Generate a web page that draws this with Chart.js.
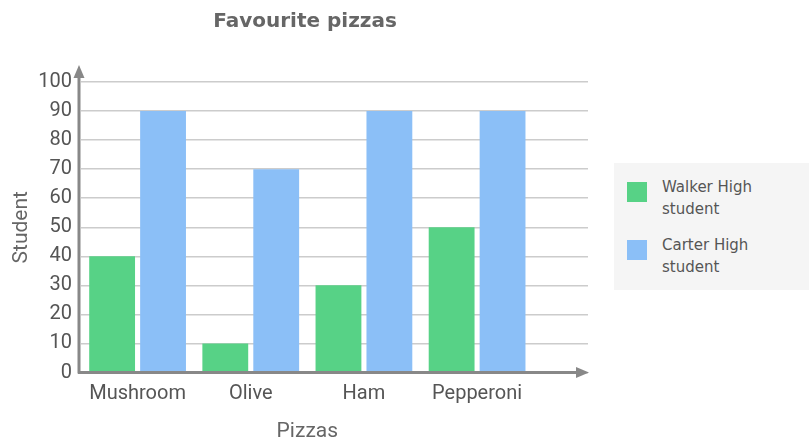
<!DOCTYPE html>
<html>
<head>
<meta charset="utf-8">
<script src="https://cdn.jsdelivr.net/npm/chart.js@4.4.1/dist/chart.umd.min.js"></script>
<style>
  html, body { margin: 0; padding: 0; background: #fff; }
  #wrap { position: relative; width: 809px; height: 442px; }
  #chartBox { position: absolute; left: 0; top: 0; width: 610px; height: 442px; }
  #legend {
    position: absolute; left: 614px; top: 163px; width: 195px; height: 127px;
    background: #f5f5f5; font-family: "DejaVu Sans", Verdana, sans-serif;
    font-size: 15px; color: #555; box-sizing: border-box; padding-top: 13px;
  }
  .item { position: relative; height: 58px; }
  .sw { position: absolute; left: 13px; top: 6px; width: 20px; height: 20px; }
  .lbl { position: absolute; left: 48px; top: 0; width: 115px; line-height: 22px; }
</style>
</head>
<body>
<div id="wrap">
  <div id="chartBox"><canvas id="pizzaChart"></canvas></div>
  <div id="legend"></div>
</div>
<script>
'use strict';

// ── data ────────────────────────────────────────────────────────────────────

const CATEGORIES = ['Mushroom', 'Olive', 'Ham', 'Pepperoni'];
const WALKER     = [40, 10, 30, 50];
const CARTER     = [90, 70, 90, 90];
const SERIES     = ['Walker High student', 'Carter High student'];
const COLORS     = ['#57d286', '#8bbff7'];

const TITLE   = 'Favourite pizzas';
const X_TITLE = 'Pizzas';
const Y_TITLE = 'Student';

// ── legend (html) ───────────────────────────────────────────────────────────

function renderLegend() {
  const box = document.getElementById('legend');
  SERIES.forEach((name, i) => {
    const item = document.createElement('div');
    item.className = 'item';
    item.innerHTML = `<div class="sw" style="background:${COLORS[i]}"></div>` +
      `<div class="lbl">${name}</div>`;
    box.appendChild(item);
  });
}

// ── axes with arrows + x title ──────────────────────────────────────────────

const axisArrows = {
  id: 'axisArrows',
  afterDraw(chart) {
    const { ctx, chartArea: a, scales } = chart;
    const y0 = scales.y.getPixelForValue(0);
    const xl = a.left - 2;
    ctx.save();
    ctx.strokeStyle = '#888';
    ctx.fillStyle = '#888';
    ctx.lineWidth = 3;
    ctx.beginPath();
    ctx.moveTo(xl, y0 + 1);
    ctx.lineTo(xl, a.top - 6);
    ctx.moveTo(xl - 1, y0);
    ctx.lineTo(a.right - 10, y0);
    ctx.stroke();
    // up arrow
    ctx.beginPath();
    ctx.moveTo(xl, a.top - 17);
    ctx.lineTo(xl - 5.5, a.top - 4);
    ctx.lineTo(xl + 5.5, a.top - 4);
    ctx.closePath();
    ctx.fill();
    // right arrow
    ctx.beginPath();
    ctx.moveTo(a.right + 1, y0);
    ctx.lineTo(a.right - 12, y0 - 5.5);
    ctx.lineTo(a.right - 12, y0 + 5.5);
    ctx.closePath();
    ctx.fill();
    // x title centred under the categories
    const xs = scales.x;
    const cx = (xs.getPixelForValue(0) + xs.getPixelForValue(CATEGORIES.length - 1)) / 2;
    ctx.font = '21px Roboto';
    ctx.fillStyle = '#666';
    ctx.textAlign = 'center';
    ctx.textBaseline = 'middle';
    ctx.fillText(X_TITLE, cx, 432);
    ctx.restore();
  },
};

// ── chart ───────────────────────────────────────────────────────────────────

function renderChart() {
  const ctx = document.getElementById('pizzaChart').getContext('2d');
  new Chart(ctx, {
    type: 'bar',
    data: {
      labels: CATEGORIES,
      datasets: [
        { label: SERIES[0], data: WALKER, backgroundColor: COLORS[0] },
        { label: SERIES[1], data: CARTER, backgroundColor: COLORS[1] },
      ],
    },
    options: {
      responsive: false, animation: false,
      // equal side padding keeps the main title centred on the canvas
      layout: { padding: { left: 22, right: 22, bottom: 0 } },
      datasets: { bar: { categoryPercentage: 0.9, barPercentage: 0.9 } },
      plugins: {
        legend: { display: false },
        tooltip: { enabled: false },
        title: {
          display: true, text: TITLE, color: '#666',
          font: { family: '"DejaVu Sans", Verdana, sans-serif', size: 20, weight: 'bold' },
          padding: { top: 10, bottom: 48 },
        },
      },
      scales: {
        x: {
          offset: true,
          grid: { display: false, drawTicks: false },
          border: { display: false },
          ticks: { color: '#555', font: { family: 'Roboto', size: 20 }, padding: 9 },
          // leave extra room after the last category, as the reference does
          afterBuildTicks: s => { s._valueRange = 4.48; },
          afterFit: s => { s.height = 69.5; },
        },
        y: {
          min: 0, max: 100,
          grid: { color: '#ccc', lineWidth: 1.5, drawTicks: false },
          border: { display: false },
          ticks: { stepSize: 10, color: '#555', font: { family: 'Roboto', size: 20 }, padding: 9 },
          title: {
            display: true, text: Y_TITLE, color: '#666',
            font: { family: 'Roboto', size: 21 }, padding: { top: -12.6, bottom: 0 },
          },
          afterFit: s => { s.width = 59; },
        },
      },
    },
    plugins: [axisArrows],
  });
}

renderLegend();
const cv = document.getElementById('pizzaChart');
cv.width = 610; cv.height = 442;
renderChart();
</script>
</body>
</html>
